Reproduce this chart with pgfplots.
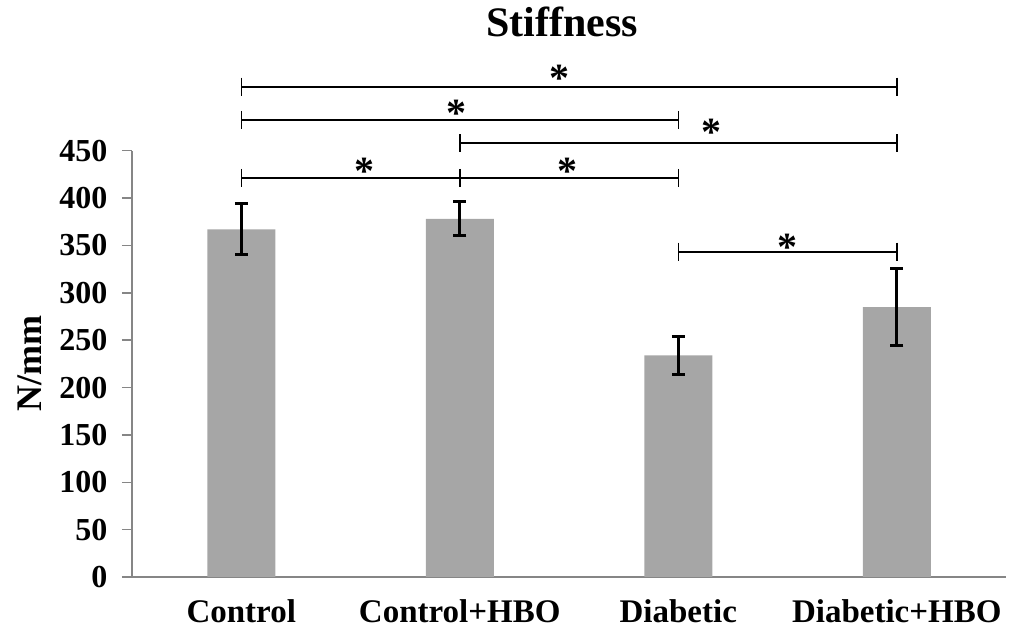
\documentclass[border=0pt]{standalone}
\usepackage{pgfplots}
\pgfplotsset{compat=1.18}
\usepackage{fontspec}
\setmainfont{Liberation Serif}
\definecolor{barfill}{HTML}{A6A6A6}
\definecolor{axgray}{HTML}{868686}
\begin{document}
\begin{tikzpicture}
\begin{axis}[
  scale only axis, width=874pt, height=426.3pt,
  xmin=-0.5, xmax=3.5, ymin=0, ymax=450,
  clip=false,
  axis x line=bottom, axis y line=left,
  axis line style={axgray, line width=1.5pt, -},
  tick align=outside, major tick length=10pt,
  ytick={0,50,...,450},
  y tick style={axgray, line width=1.5pt},
  xtick={0,1,2,3},
  xticklabels={Control,Control+HBO,Diabetic,Diabetic+HBO},
  x tick style={draw=none},
  extra x ticks={-0.5,0.5,1.5,2.5,3.5}, extra x tick labels={},
  extra x tick style={tick style={draw=axgray, line width=1.5pt}},
  /pgf/number format/assume math mode=true,
  yticklabel style={xshift=-11pt, font=\fontsize{32}{38}\selectfont\bfseries},
  xticklabel style={yshift=-9pt, font=\fontsize{33}{39}\selectfont\bfseries},
  ylabel={N/mm},
  ylabel style={at={(axis description cs:-0.1167,0.5)}, anchor=center,
    font=\fontsize{36}{42}\selectfont\bfseries},
  title={Stiffness},
  title style={at={(axis description cs:0.5,1)}, anchor=center, yshift=123pt, xshift=-7pt,
    font=\fontsize{42}{50}\selectfont\bfseries},
]
\coordinate (ll) at (rel axis cs:0,0);
\coordinate (ur) at (rel axis cs:1,1);
\addplot[ybar, bar width=68pt, fill=barfill, draw=none,
  error bars/.cd, y dir=both, y explicit,
  error bar style={black, line width=3pt},
  error mark options={black, rotate=90, mark size=6.5pt, line width=3pt}]
  coordinates {(0,367) +- (0,27) (1,378) +- (0,18) (2,234) +- (0,20) (3,285) +- (0,41)};
% significance brackets
\pgfplotsset{sig/.style={black, line width=2pt, mark=|, mark size=9pt, mark options={line width=1.5pt}}}
\addplot[sig] coordinates {(0,517.6) (3,517.6)};
\addplot[sig] coordinates {(0,482.4) (2,482.4)};
\addplot[sig] coordinates {(1,457.8) (3,457.8)};
\addplot[sig] coordinates {(0,421.2) (1,421.2) (2,421.2)};
\addplot[sig] coordinates {(2,343.4) (3,343.4)};
\tikzset{star/.style={anchor=base, font=\fontsize{40}{44}\selectfont\bfseries, inner sep=0pt}}
\node[star] at (axis cs:1.458,512) {*};
\node[star] at (axis cs:0.987,476) {*};
\node[star] at (axis cs:2.154,456) {*};
\node[star] at (axis cs:0.562,414) {*};
\node[star] at (axis cs:1.495,414) {*};
\node[star] at (axis cs:2.498,333.6) {*};
\end{axis}
\pgfresetboundingbox
\useasboundingbox ([shift={(-132pt,-53pt)}]ll) rectangle ([shift={(5pt,150.7pt)}]ur);
\end{tikzpicture}
\end{document}
